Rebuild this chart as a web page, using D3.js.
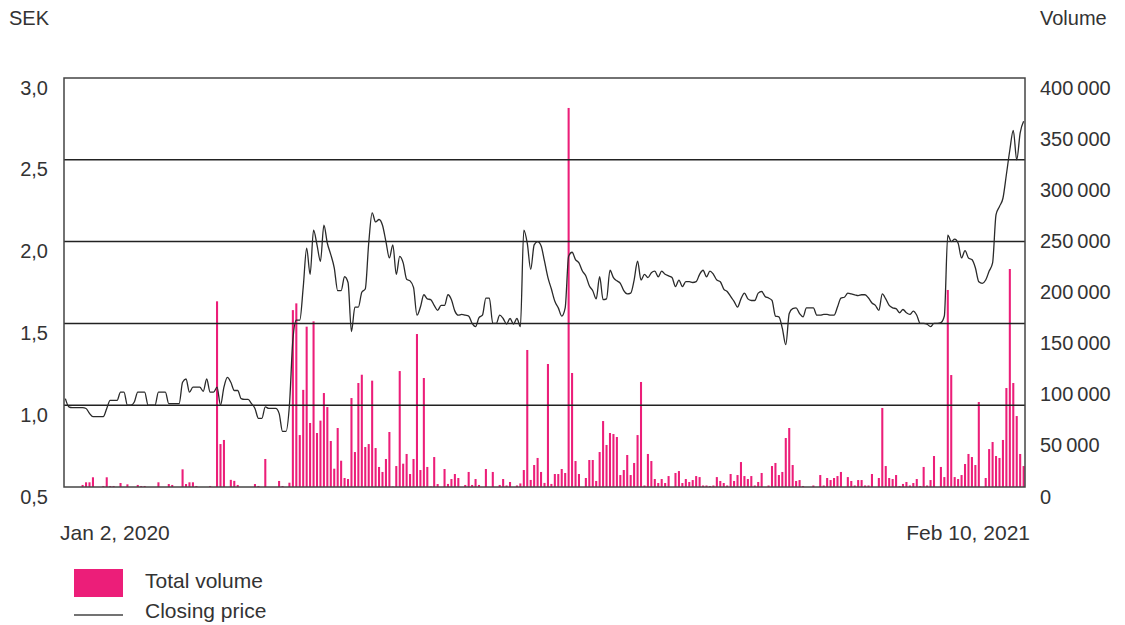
<!DOCTYPE html>
<html>
<head>
<meta charset="utf-8">
<script src="https://cdn.jsdelivr.net/npm/d3@7"></script>
<style>
  body { margin: 0; background: #fff; }
  svg text { font-family: "Liberation Sans", Arial, sans-serif; fill: #333; }
</style>
</head>
<body>
<div id="chart"></div>
<script>
// daily total volume, Jan 2 2020 .. Feb 10 2021 (trading days)
var volume = [
  0,0,0,0,0,2000,4600,4600,9500,0,
  0,1000,9500,1000,1000,0,3900,0,2600,0,
  0,2000,1000,1000,0,0,0,4600,0,0,
  2900,2000,0,0,17300,2900,4600,4600,1000,0,
  0,0,1000,0,181600,42000,46000,0,7000,6000,
  2000,0,0,0,0,2900,1000,0,27400,0,
  0,0,5900,1000,0,4200,173000,179600,50800,95000,
  156800,62600,162000,52800,64900,91900,78200,45000,17900,57700,
  25700,8800,7800,87000,34200,101700,109800,39100,42000,104000,
  38100,19600,14700,27400,53800,500,20500,113400,22800,32300,
  12700,27400,149600,16600,106600,19600,500,29300,2900,0,
  17600,3000,7800,12700,8800,0,2000,14700,2000,7800,
  2000,0,17600,0,14700,0,2000,7800,1500,4900,
  0,1500,3500,16600,134000,6900,21500,28400,14700,4000,
  120300,3000,12700,12700,17600,13700,370700,111500,25400,12700,
  0,8800,26400,26400,5900,34200,64500,41100,52800,51800,
  48900,11700,16600,31300,11700,23500,50800,102700,1500,32300,
  25400,7800,3900,7800,3900,10700,0,13700,15600,3900,
  7800,4900,6800,10700,9700,1500,1500,1000,1500,9700,
  5900,3900,1500,12700,5900,11700,24400,10700,7800,10700,
  1500,4900,13700,0,1500,20500,23500,11700,14700,47900,
  57700,21500,5900,6800,1000,0,0,1500,0,11700,
  1500,8800,6800,8800,10700,14700,0,9700,5900,1500,
  6800,6800,1500,1500,12700,0,8800,77300,20500,8800,
  7800,11700,1000,3000,4900,1500,3900,7800,1000,19600,
  1500,6800,30300,0,19600,9700,192700,109500,9700,7800,
  11700,22500,32300,29300,21500,83100,0,8800,37100,44000,
  30300,28400,46000,96800,213200,101700,69400,32300,20500
];

// closing price, SEK
var closing = [
  1.04,0.99,0.985,0.985,0.985,0.985,0.98,0.95,0.93,0.93,
  0.93,0.93,0.98,1.03,1.03,1.03,1.08,1.08,1.0,1.0,
  1.02,1.08,1.08,1.08,1.0,1.0,1.0,1.08,1.08,1.08,
  1.01,1.01,1.01,1.01,1.14,1.16,1.08,1.11,1.11,1.11,
  1.085,1.16,1.08,1.08,1.11,1.0,1.11,1.17,1.14,1.09,
  1.09,1.04,1.035,1.035,1.01,0.98,0.92,0.92,0.99,0.98,
  0.98,0.98,0.95,0.84,0.84,1.0,1.40,1.52,1.52,1.72,
  1.96,1.80,2.07,1.98,1.88,2.10,1.99,1.92,1.84,1.70,
  1.70,1.785,1.75,1.45,1.60,1.60,1.69,1.71,1.99,2.175,
  2.12,2.135,2.10,2.00,1.90,1.98,1.80,1.91,1.87,1.77,
  1.76,1.72,1.55,1.60,1.675,1.65,1.645,1.61,1.58,1.61,
  1.61,1.675,1.645,1.575,1.55,1.555,1.55,1.545,1.50,1.48,
  1.535,1.55,1.655,1.655,1.50,1.50,1.55,1.53,1.495,1.53,
  1.495,1.53,1.48,2.07,1.99,1.83,1.98,2.0,1.975,1.88,
  1.78,1.71,1.635,1.595,1.545,1.595,1.91,1.935,1.89,1.87,
  1.82,1.79,1.73,1.70,1.65,1.785,1.645,1.65,1.825,1.78,
  1.76,1.745,1.70,1.68,1.685,1.765,1.88,1.765,1.80,1.78,
  1.81,1.82,1.785,1.82,1.80,1.79,1.78,1.725,1.765,1.725,
  1.755,1.755,1.75,1.755,1.80,1.825,1.785,1.82,1.80,1.765,
  1.755,1.71,1.695,1.665,1.635,1.60,1.65,1.685,1.65,1.64,
  1.64,1.685,1.695,1.665,1.655,1.64,1.545,1.54,1.47,1.37,
  1.56,1.59,1.595,1.56,1.54,1.595,1.595,1.595,1.55,1.55,
  1.555,1.555,1.55,1.55,1.60,1.655,1.66,1.685,1.68,1.675,
  1.67,1.675,1.675,1.655,1.625,1.61,1.58,1.68,1.65,1.61,
  1.595,1.59,1.565,1.585,1.565,1.555,1.575,1.55,1.50,1.50,
  1.495,1.48,1.50,1.50,1.505,1.545,2.04,2.00,2.015,1.99,
  1.90,1.945,1.90,1.89,1.84,1.755,1.745,1.765,1.82,1.87,
  2.165,2.215,2.265,2.41,2.56,2.68,2.50,2.665,2.735
];

var days = d3.range(volume.length);
var priceTicks = [0.5, 1.0, 1.5, 2.0, 2.5, 3.0];
var volumeTicks = [0, 50000, 100000, 150000, 200000, 250000, 300000, 350000, 400000];
var dateLabels = ["Jan 2, 2020", "Feb 10, 2021"];
var legendLabels = ["Total volume", "Closing price"];

var W = 1125, H = 625;
var margin = {top: 78, right: 100, bottom: 138, left: 64},
    width = W - margin.left - margin.right,
    height = H - margin.top - margin.bottom;

var pink = "#ec1e79";
var fs = 20, fsBig = 21;

var locale = d3.formatLocale({decimal: ",", thousands: " ", grouping: [3], currency: ["", ""]});
var fmtPrice = locale.format(".1f");
var fmtVol = function(v) { return d3.format(",")(v).replace(/,/g, "\u2009"); };

var svg = d3.select("#chart").append("svg").attr("width", W).attr("height", H),
    g = svg.append("g").attr("transform", "translate(" + margin.left + "," + margin.top + ")");

var x = d3.scaleBand().domain(days).range([0, width]).paddingInner(0.4).paddingOuter(0.1);
var yP = d3.scaleLinear().domain([0.5, 3.0]).range([height, 0]);
var yV = d3.scaleLinear().domain([0, 400000]).range([height, 0]);

// volume bars
g.append("g")
  .selectAll("rect")
  .data(volume)
  .enter().append("rect")
    .attr("x", function(d, i) { return x(i); })
    .attr("y", function(d) { return yV(d); })
    .attr("width", x.bandwidth())
    .attr("height", function(d) { return height - yV(d); })
    .attr("fill", pink);

// grid lines
g.append("g")
  .selectAll("line")
  .data(priceTicks.slice(1, -1))
  .enter().append("line")
    .attr("x1", 0).attr("x2", width)
    .attr("y1", function(d) { return yP(d); })
    .attr("y2", function(d) { return yP(d); })
    .attr("stroke", "#222").attr("stroke-width", 1.5);

// frame
g.append("rect")
  .attr("x", 0).attr("y", 0).attr("width", width).attr("height", height)
  .attr("fill", "none").attr("stroke", "#444").attr("stroke-width", 1.5);

// closing price line
var line = d3.line()
  .x(function(d, i) { return x(i) + x.bandwidth() / 2; })
  .y(function(d) { return yP(d); })
  .curve(d3.curveMonotoneX);

g.append("path")
  .datum(closing)
  .attr("d", line)
  .attr("fill", "none")
  .attr("stroke", "#2a2a2a")
  .attr("stroke-width", 1.3);

// left axis
var yAxisL = g.append("g")
  .call(d3.axisLeft(yP).tickValues(priceTicks).tickSize(0).tickPadding(16).tickFormat(fmtPrice));
yAxisL.select(".domain").remove();
yAxisL.selectAll("text").attr("font-size", fs).attr("dy", "0.75em").attr("y", 1).attr("fill", "#333");

// right axis
var yAxisR = g.append("g")
  .attr("transform", "translate(" + width + ",0)")
  .call(d3.axisRight(yV).tickValues(volumeTicks).tickSize(0).tickPadding(15).tickFormat(fmtVol));
yAxisR.select(".domain").remove();
yAxisR.selectAll("text").attr("font-size", fs).attr("dy", "0.75em").attr("y", 1).attr("fill", "#333");

// axis titles
svg.append("text").attr("x", 9).attr("y", 25).attr("font-size", fs).text("SEK");
svg.append("text").attr("x", 1040).attr("y", 25).attr("font-size", fs).text("Volume");

// date labels
svg.append("text").attr("x", 60).attr("y", 540).attr("font-size", fsBig).text(dateLabels[0]);
svg.append("text").attr("x", 1030).attr("y", 540).attr("font-size", fsBig)
  .attr("text-anchor", "end").text(dateLabels[1]);

// legend
var lg = svg.append("g").attr("transform", "translate(74,569)");
lg.append("rect").attr("width", 49).attr("height", 28).attr("fill", pink);
lg.append("line").attr("x1", 0).attr("x2", 49).attr("y1", 46).attr("y2", 46)
  .attr("stroke", "#444").attr("stroke-width", 1.3);
lg.append("text").attr("x", 71).attr("y", 19).attr("font-size", fsBig).text(legendLabels[0]);
lg.append("text").attr("x", 71).attr("y", 49).attr("font-size", fsBig).text(legendLabels[1]);
</script>
</body>
</html>
